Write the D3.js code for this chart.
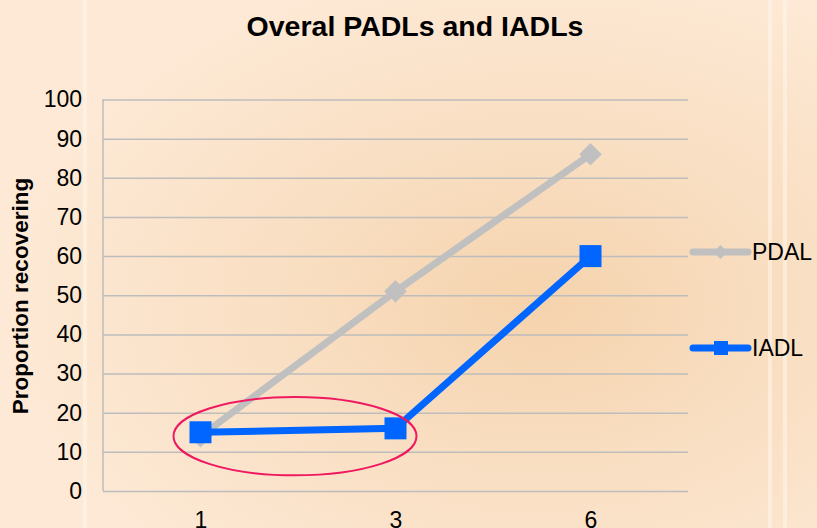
<!DOCTYPE html>
<html>
<head>
<meta charset="utf-8">
<script src="https://cdn.jsdelivr.net/npm/d3@7"></script>
<style>
  html, body { margin: 0; padding: 0; background: #fce6cf; }
  svg { display: block; font-family: "Liberation Sans", Arial, sans-serif; }
</style>
</head>
<body>
<div class="js-vis"></div>
<script>
"use strict";

// chart data
var months = ["1", "3", "6"];
var pdal = [14, 51, 86];
var iadl = [15, 16, 60];
var yTicks = [0, 10, 20, 30, 40, 50, 60, 70, 80, 90, 100];
var seriesNames = ["PDAL", "IADL"];

var W = 817, H = 528;
var plot = { left: 103, right: 688, top: 99.5, bottom: 491 };

var svg = d3.select(".js-vis").append("svg")
    .attr("width", W).attr("height", H);

// background
var defs = svg.append("defs");
var rg = defs.append("radialGradient").attr("id", "bg")
    .attr("cx", "0.66").attr("cy", "0.58").attr("r", "0.65");
rg.append("stop").attr("offset", "0").attr("stop-color", "#f5d3ad");
rg.append("stop").attr("offset", "0.5").attr("stop-color", "#f9dfc3");
rg.append("stop").attr("offset", "1").attr("stop-color", "#fde9d5");
svg.append("rect").attr("width", W).attr("height", H).attr("fill", "url(#bg)");
// faint light stripes
[85, 770, 785].forEach(function (sx) {
  svg.append("rect").attr("x", sx - 2).attr("y", 0).attr("width", 4).attr("height", H)
      .attr("fill", "#fff6ea").attr("opacity", 0.55);
});

var x = d3.scalePoint().domain(months).range([plot.left, plot.right]).padding(0.5);
var y = d3.scaleLinear().domain([0, 100]).range([plot.bottom, plot.top]);

// gridlines
svg.append("g")
    .attr("transform", "translate(" + plot.left + ",0)")
    .call(d3.axisRight(y).tickValues(yTicks).tickSize(plot.right - plot.left).tickFormat(""))
    .call(function (g) { g.select(".domain").remove(); })
    .selectAll("line").attr("stroke", "#bdbdbd").attr("stroke-width", 1.5);

// left axis line
svg.append("line")
    .attr("x1", plot.left).attr("x2", plot.left)
    .attr("y1", plot.top).attr("y2", plot.bottom)
    .attr("stroke", "#bdbdbd").attr("stroke-width", 1.5);

// y tick labels
var yax = svg.append("g")
    .attr("transform", "translate(" + plot.left + ",0)")
    .call(d3.axisLeft(y).tickValues(yTicks).tickSize(0).tickPadding(21));
yax.select(".domain").remove();
yax.selectAll("text").attr("font-size", 23).attr("fill", "#000")
    .attr("font-family", "Liberation Sans, Arial, sans-serif");

// x tick labels
var xax = svg.append("g")
    .attr("transform", "translate(0," + plot.bottom + ")")
    .call(d3.axisBottom(x).tickSize(0).tickPadding(21));
xax.select(".domain").remove();
xax.selectAll("text").attr("font-size", 23).attr("fill", "#000")
    .attr("font-family", "Liberation Sans, Arial, sans-serif");

// title
svg.append("text")
    .attr("x", 415).attr("y", 36)
    .attr("text-anchor", "middle")
    .attr("font-size", 28.5).attr("font-weight", "bold")
    .text("Overal PADLs and IADLs");

// y axis title
svg.append("text")
    .attr("transform", "translate(28,296) rotate(-90)")
    .attr("text-anchor", "middle")
    .attr("font-size", 22.5).attr("font-weight", "bold")
    .text("Proportion recovering");

var line = d3.line()
    .x(function (d, i) { return x(months[i]); })
    .y(function (d) { return y(d); });

var grey = "#c0c0c0", blue = "#0066ff";

// PDAL series
svg.append("path").datum(pdal)
    .attr("d", line).attr("fill", "none")
    .attr("stroke", grey).attr("stroke-width", 7);
svg.selectAll(".pdal").data(pdal).enter().append("path")
    .attr("class", "pdal")
    .attr("transform", function (d, i) { return "translate(" + x(months[i]) + "," + y(d) + ") rotate(45)"; })
    .attr("d", "M-8,-8H8V8H-8Z")
    .attr("fill", grey);

// IADL series
svg.append("path").datum(iadl)
    .attr("d", line).attr("fill", "none")
    .attr("stroke", blue).attr("stroke-width", 7);
svg.selectAll(".iadl").data(iadl).enter().append("rect")
    .attr("class", "iadl")
    .attr("x", function (d, i) { return x(months[i]) - 11; })
    .attr("y", function (d) { return y(d) - 11; })
    .attr("width", 22).attr("height", 22)
    .attr("fill", blue);

// annotation ellipse around the flat IADL stretch
svg.append("ellipse")
    .attr("cx", (x(months[0]) + x(months[1])) / 2 - 3)
    .attr("cy", y(14))
    .attr("rx", (x(months[1]) - x(months[0])) / 2 + 24)
    .attr("ry", y(0) - y(10))
    .attr("fill", "none")
    .attr("stroke", "#f0185f").attr("stroke-width", 2);

// legend
var legend = svg.append("g");
var ly = [252, 348];
seriesNames.forEach(function (name, i) {
  var c = i === 0 ? grey : blue;
  var g = legend.append("g").attr("transform", "translate(0," + ly[i] + ")");
  g.append("line").attr("x1", 693).attr("x2", 748)
      .attr("stroke", c).attr("stroke-width", 7).attr("stroke-linecap", "round");
  if (i === 0) {
    g.append("path").attr("transform", "translate(720.5,0) rotate(45)")
        .attr("d", "M-5,-5H5V5H-5Z").attr("fill", c);
  } else {
    g.append("rect").attr("x", 714).attr("y", -7).attr("width", 14).attr("height", 14).attr("fill", c);
  }
  g.append("text").attr("x", 752).attr("dy", "0.35em")
      .attr("font-size", 23).text(name);
});
</script>
</body>
</html>
